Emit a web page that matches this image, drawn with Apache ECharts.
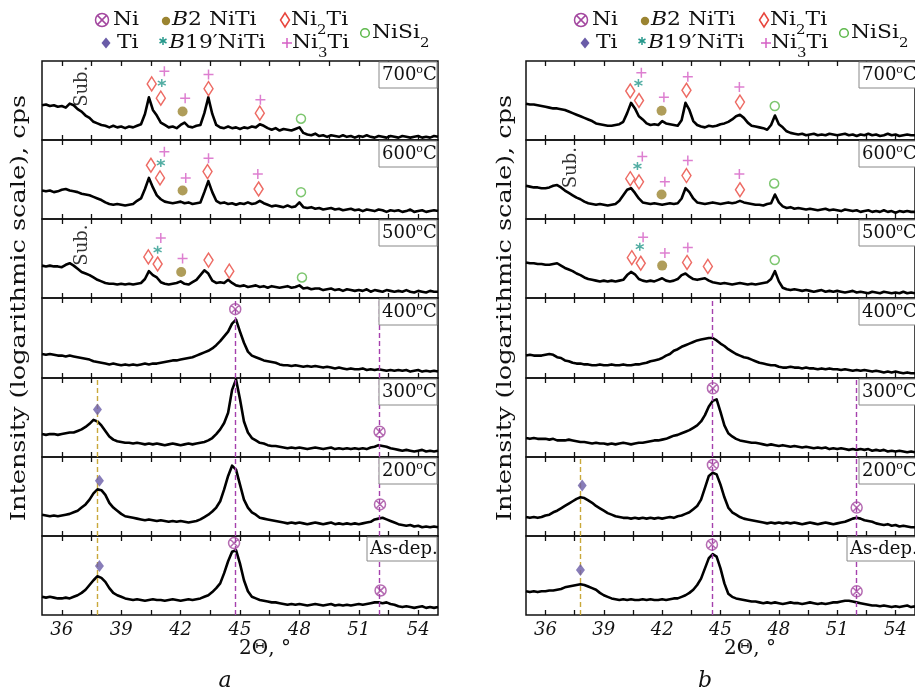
<!DOCTYPE html>
<html>
<head>
<meta charset="utf-8">
<script src="https://cdn.jsdelivr.net/npm/echarts@6/dist/echarts.min.js"></script>
<style>
html, body { margin: 0; padding: 0; background: #fff; }
#chart { width: 915px; height: 693px; }
</style>
</head>
<body>
<div id="chart"></div>
<script>
// 2Θ grid shared by all patterns (degrees)
const twoTheta = [
  35,35.2,35.4,35.6,35.8,36,36.2,36.4,36.6,36.8,
  37,37.2,37.4,37.6,37.8,38,38.2,38.4,38.6,38.8,
  39,39.2,39.4,39.6,39.8,40,40.2,40.4,40.6,40.8,
  41,41.2,41.4,41.6,41.8,42,42.2,42.4,42.6,42.8,
  43,43.2,43.4,43.6,43.8,44,44.2,44.4,44.6,44.8,
  45,45.2,45.4,45.6,45.8,46,46.2,46.4,46.6,46.8,
  47,47.2,47.4,47.6,47.8,48,48.2,48.4,48.6,48.8,
  49,49.2,49.4,49.6,49.8,50,50.2,50.4,50.6,50.8,
  51,51.2,51.4,51.6,51.8,52,52.2,52.4,52.6,52.8,
  53,53.2,53.4,53.6,53.8,54,54.2,54.4,54.6,54.8,
  55
];
const tickValues = [36, 37.5, 39, 40.5, 42, 43.5, 45, 46.5, 48, 49.5, 51, 52.5, 54];
const labelValues = [36, 39, 42, 45, 48, 51, 54];
const tempLabels = ['700', '600', '500', '400', '300', '200', 'As-dep.'];

// panel a — relative height in each strip (0..100), log-scale intensity
const a700 = [
  44,45,43,44,42,43,41,46,44,39, 36,31,28,23,21,19,18,16,18,16,
  17,15,17,16,18,20,33,54,38,31, 22,19,16,17,15,19,22,17,16,18,
  19,34,54,33,19,16,15,17,15,16, 14,16,15,17,16,20,18,15,13,15,
  12,14,13,12,14,16,9,7,6,8, 5,6,4,6,5,4,6,4,5,3,
  5,4,6,4,3,5,4,3,5,4, 3,5,4,3,4,5,3,4,3,5, 4
];
const a600 = [
  36,35,36,34,35,37,38,36,35,34, 32,31,30,28,26,24,21,19,18,19,
  18,17,18,19,23,26,38,52,40,30, 25,22,21,20,21,22,20,21,19,20,
  21,34,48,34,23,20,21,19,20,18, 20,19,21,19,20,23,20,18,16,17,
  16,15,17,15,16,21,15,14,15,13, 14,12,13,14,12,13,11,12,13,11,
  12,10,12,11,10,12,11,9,11,10, 11,9,10,12,9,10,11,9,10,11, 10
];
const a500 = [
  41,40,41,40,40,39,42,44,41,37, 33,31,29,26,23,21,19,18,18,17,
  18,17,18,17,18,19,24,34,29,26, 20,18,17,18,19,21,18,17,20,23,
  29,35,31,22,19,20,19,23,19,16, 15,16,14,15,16,14,15,13,15,14,
  13,14,15,13,14,16,12,13,11,12, 12,10,11,12,10,11,9,11,10,9,
  10,9,11,8,10,9,8,10,9,8, 9,8,10,8,7,9,8,7,9,8, 8
];
const a400 = [
  30,29,30,29,28,28,27,28,27,26, 25,24,23,21,20,19,18,17,18,17,
  16,17,16,17,16,17,18,17,18,18, 19,20,21,22,22,23,24,25,26,28,
  30,32,34,37,41,46,52,58,68,73, 58,44,33,28,26,24,22,21,20,19,
  17,16,16,15,16,15,14,15,14,15, 14,13,14,13,12,13,12,11,12,11,
  11,12,10,11,10,11,10,9,10,9, 10,9,10,8,9,10,8,9,8,9, 8
];
const a300 = [
  29,28,29,29,28,29,30,31,31,33, 35,38,42,47,45,40,33,26,22,20,
  19,18,18,17,18,17,16,17,16,17, 16,15,16,17,16,15,16,17,16,17,
  18,19,21,24,29,35,43,56,85,98, 73,45,31,24,21,18,17,15,14,14,
  13,12,11,12,11,12,11,10,11,12, 11,10,11,12,10,11,10,11,10,11,
  10,11,10,12,13,15,14,13,11,10, 9,8,9,8,7,8,9,7,8,7, 8
];
const a200 = [
  27,26,25,26,25,26,27,28,30,32, 36,40,46,54,59,58,52,42,36,32,
  28,25,24,23,22,21,20,21,20,19, 20,19,18,19,18,19,18,17,18,19,
  21,24,27,31,36,44,59,76,89,84, 65,46,36,30,27,23,22,21,20,19,
  18,17,16,17,16,17,16,15,16,17, 16,15,16,17,15,16,15,16,15,16,
  15,16,17,18,21,22,23,21,19,17, 15,14,13,14,12,13,11,12,11,12, 11
];
const aAsDep = [
  23,22,23,22,21,21,22,21,23,25, 28,32,38,44,49,47,42,34,28,25,
  23,21,20,19,20,19,18,19,20,19, 19,18,19,20,19,18,19,20,19,20,
  21,23,25,29,34,40,53,68,80,82, 65,44,30,23,21,19,18,17,16,16,
  15,14,13,14,13,14,13,12,13,14, 13,12,13,14,12,13,12,13,12,13,
  14,13,14,15,16,16,15,16,14,13, 11,10,11,10,9,10,11,9,10,9, 10
];

// panel b
const b700 = [
  46,45,45,44,43,42,41,40,40,39, 38,36,34,32,30,28,26,24,21,20,
  19,18,18,19,20,23,34,47,40,30, 26,21,19,20,19,24,21,20,19,18,
  25,47,38,24,19,17,16,18,17,18, 20,21,23,26,30,32,28,22,18,17,
  16,15,13,19,31,20,16,11,9,8, 7,8,6,7,8,6,7,6,8,7,
  6,7,8,6,7,5,7,6,8,6, 7,5,6,8,6,7,5,6,7,6, 6
];
const b600 = [
  42,41,40,40,39,39,40,42,43,40, 36,33,30,27,25,22,20,19,18,19,
  18,17,18,19,23,30,37,39,33,26, 21,20,19,20,19,18,19,20,19,20,
  26,39,34,26,21,20,19,20,21,20, 19,20,21,20,21,23,21,20,19,18,
  18,17,19,20,31,21,16,14,15,13, 14,13,12,13,12,11,12,13,11,12,
  11,10,12,11,10,11,9,10,11,9, 10,9,11,9,10,8,10,9,10,9, 9
];
const b500 = [
  45,44,44,43,43,42,42,43,44,41, 38,36,34,31,29,26,24,23,22,21,
  22,21,22,21,22,23,29,33,30,24, 22,21,22,21,23,25,22,21,22,24,
  29,31,27,24,23,24,25,22,20,19, 18,19,18,17,18,19,18,17,18,17,
  18,19,20,24,34,21,13,11,10,11, 10,9,10,9,8,9,10,8,9,8,
  9,8,7,8,9,7,8,7,6,8, 7,6,8,7,6,7,6,8,6,7, 6
];
const b400 = [
  28,29,28,28,28,29,30,29,26,25, 22,21,19,18,18,17,17,16,16,17,
  16,16,17,16,16,17,16,16,17,17, 18,19,21,22,23,25,28,30,34,36,
  39,41,43,45,47,48,49,50,50,47, 43,40,36,33,30,28,26,25,23,21,
  19,18,17,16,16,14,13,13,14,13, 13,12,13,12,12,11,12,11,12,11,
  11,10,11,10,9,10,9,10,9,8, 9,8,7,8,7,8,7,6,7,6, 6
];
const b300 = [
  24,23,24,23,23,23,22,23,21,21, 21,22,21,20,19,19,18,17,18,17,
  17,16,17,16,17,18,17,16,17,18, 18,19,20,21,21,22,23,25,27,28,
  30,32,34,37,40,45,53,64,71,73, 57,40,30,26,23,21,20,19,18,18,
  17,16,15,16,15,14,15,14,13,14, 13,12,13,12,11,12,11,12,10,11,
  10,11,10,9,10,9,10,9,10,8, 9,8,9,7,8,7,8,7,6,7, 6
];
const b200 = [
  24,23,24,23,24,26,27,30,32,35, 38,41,44,47,49,48,45,42,38,35,
  32,29,27,25,24,23,23,22,23,22, 23,22,23,22,23,22,23,24,23,25,
  26,28,30,34,38,46,61,76,80,78, 65,49,36,30,27,24,22,21,20,19,
  18,17,16,17,16,17,16,17,16,17, 16,15,16,17,16,15,16,17,16,15,
  16,17,18,20,22,23,22,20,19,18, 16,15,14,15,13,14,12,13,12,11, 11
];
const bAsDep = [
  30,29,30,29,30,30,31,31,32,33, 35,36,37,38,39,38,36,34,32,28,
  25,23,21,20,19,20,19,20,19,19, 20,19,20,19,19,20,19,20,21,21,
  23,25,28,32,38,46,59,72,77,74, 59,40,27,23,21,20,19,18,17,17,
  16,15,16,15,16,15,14,15,16,15, 15,14,15,16,15,14,15,14,15,16,
  16,17,18,18,17,16,15,14,13,12, 12,11,12,11,10,11,10,11,12,10, 11
];

// phase markers: [strip (0 = 700 °C ... 6 = as-dep.), 2Θ, height]
const niA = [[3,44.76,86],[4,52.05,32],[5,52.07,40],[6,44.7,91],[6,52.1,31]];
const tiA = [[4,37.8,60],[5,37.9,70],[6,37.9,62]];
const b2A = [[0,42.1,36],[1,42.1,36],[2,42.03,33]];
const ni2tiA = [[0,40.54,71],[0,41.0,53],[0,43.41,65],[0,46.0,34],[1,40.5,68],[1,40.96,52],[1,43.36,60],[1,45.94,38],
                [2,40.37,52],[2,40.84,43],[2,43.41,48],[2,44.46,34]];
const b19A = [[0,41.05,72],[1,41.0,71],[2,40.84,61]];
const ni3tiA = [[0,41.18,87],[0,42.23,53],[0,43.41,83],[0,46.03,51],[1,41.18,85],[1,42.26,52],[1,43.41,77],[1,45.9,57],
                [2,41.0,76],[2,42.1,50]];
const nisi2A = [[0,48.08,27],[1,48.08,34],[2,48.13,26]];

const niB = [[4,44.61,87],[5,44.61,90],[5,52.0,36],[6,44.56,89],[6,52.0,30]];
const tiB = [[5,37.89,64],[6,37.8,57]];
const b2B = [[0,41.97,37],[1,41.97,31],[2,42.0,41]];
const ni2tiB = [[0,40.36,62],[0,40.81,50],[0,43.25,63],[0,46.0,48],[1,40.36,51],[1,40.81,47],[1,43.25,55],[1,46.0,37],
                [2,40.44,51],[2,40.9,44],[2,43.28,45],[2,44.35,40]];
const b19B = [[0,40.78,72],[1,40.73,67],[2,40.85,65]];
const ni3tiB = [[0,40.93,85],[0,42.09,54],[0,43.32,80],[0,45.97,67],[1,40.98,79],[1,42.14,47],[1,43.32,74],[1,45.97,57],
                [2,41.02,77],[2,42.14,57],[2,43.32,64]];
const nisi2B = [[0,47.79,43],[1,47.76,45],[2,47.79,48]];

// reference lines: [2Θ, first strip, phase]
const dashA = [[37.79,4,'ti'],[44.76,3,'ni'],[52.05,3,'ni']];
const dashB = [[37.8,5,'ti'],[44.56,3,'ni'],[52.0,4,'ni']];
// "Sub." notes: [strip, 2Θ, height]
const subA = [[0,37.06,68],[2,37.06,67]];
const subB = [[1,37.33,65]];

const serif = '"DejaVu Serif", "Liberation Serif", serif';
const colors = {ni:'#a3479f', ti:'#6a5ca8', b2:'#9b8431', ni2ti:'#e8453c', b19:'#27998c', ni3ti:'#d45fc4', nisi2:'#5db84b'};
const dashColors = {ti:'#c9a83a', ni:'#a540ad'};
const markStyle = {
  ni:    {symbol:'path://M19,10A9,9,0,1,1,1,10A9,9,0,1,1,19,10ZM3.64,3.64L16.36,16.36M16.36,3.64L3.64,16.36', size:11, hollow:true},
  ti:    {symbol:'diamond', size:[9,12]},
  b2:    {symbol:'circle', size:10},
  ni2ti: {symbol:'diamond', size:[9,14], hollow:true},
  b19:   {symbol:'path://M10,0L10,20M1.34,5L18.66,15M1.34,15L18.66,5', size:8, hollow:true},
  ni3ti: {symbol:'path://M10,0L10,20M0,10L20,10', size:10, hollow:true},
  nisi2: {symbol:'circle', size:9, hollow:true}
};

const panels = [
  {left:42, width:396, curves:[a700,a600,a500,a400,a300,a200,aAsDep], dash:dashA, sub:subA,
   marks:{ni:niA, ti:tiA, b2:b2A, ni2ti:ni2tiA, b19:b19A, ni3ti:ni3tiA, nisi2:nisi2A}},
  {left:526, width:392, curves:[b700,b600,b500,b400,b300,b200,bAsDep], dash:dashB, sub:subB,
   marks:{ni:niB, ti:tiB, b2:b2B, ni2ti:ni2tiB, b19:b19B, ni3ti:ni3tiB, nisi2:nisi2B}}
];
const rowTop = 61, rowH = (615 - 61) / 7;

const grids = [], xAxes = [], yAxes = [], series = [], graphics = [];

const measureCtx = document.createElement('canvas').getContext('2d');
function textWidth(str, size, italic) {
  measureCtx.font = (italic ? 'italic ' : '') + size + 'px ' + serif;
  return measureCtx.measureText(str).width;
}

function makeX(g, pos, withLabels) {
  return {
    gridIndex: g, type: 'value', position: pos, min: 35, max: 55,
    axisLine: {show: false},
    axisTick: {show: true, inside: true, length: 5, customValues: tickValues, lineStyle: {color: '#111', width: 1.3}},
    axisLabel: {show: withLabels, customValues: labelValues, margin: 6, fontFamily: serif, fontStyle: 'italic',
                fontSize: 18, color: '#111'},
    splitLine: {show: false}
  };
}

function icon(kind, cx, cy) {
  const c = colors[kind];
  const s = {stroke: c, lineWidth: 1.5, fill: 'none'};
  const L = (x1, y1, x2, y2) => ({type: 'line', z: 100, shape: {x1: x1, y1: y1, x2: x2, y2: y2}, style: s});
  switch (kind) {
    case 'ni': return [{type: 'circle', z: 100, shape: {cx: cx, cy: cy, r: 6.5}, style: s},
                       L(cx - 4.6, cy - 4.6, cx + 4.6, cy + 4.6), L(cx + 4.6, cy - 4.6, cx - 4.6, cy + 4.6)];
    case 'ti': return [{type: 'polygon', z: 100, shape: {points: [[cx, cy - 5.5], [cx + 4.5, cy], [cx, cy + 5.5], [cx - 4.5, cy]]},
                        style: {fill: c}}];
    case 'b2': return [{type: 'circle', z: 100, shape: {cx: cx, cy: cy, r: 4.2}, style: {fill: c}}];
    case 'ni2ti': return [{type: 'polygon', z: 100, shape: {points: [[cx, cy - 7], [cx + 4.5, cy], [cx, cy + 7], [cx - 4.5, cy]]},
                           style: s}];
    case 'b19': return [L(cx, cy - 4, cx, cy + 4), L(cx - 3.5, cy - 2, cx + 3.5, cy + 2), L(cx - 3.5, cy + 2, cx + 3.5, cy - 2)];
    case 'ni3ti': return [L(cx, cy - 5, cx, cy + 5), L(cx - 5, cy, cx + 5, cy)];
    case 'nisi2': return [{type: 'circle', z: 100, shape: {cx: cx, cy: cy, r: 4.3}, style: s}];
  }
  return [];
}

// legend text made of pieces: n = normal, i = italic, s = subscript
function legendText(parts, x, y, sx) {
  let cx = x;
  parts.forEach(pt => {
    const kind = pt[1];
    const size = kind === 's' ? 13 : 19;
    const italic = kind === 'i';
    graphics.push({type: 'text', z: 100, x: cx, y: kind === 's' ? y + 11 : y, scaleX: sx,
                   style: {text: pt[0], fontFamily: serif, fontSize: size, fontStyle: italic ? 'italic' : 'normal',
                           fill: '#111', align: 'left', verticalAlign: 'middle', textAlign: 'left', textVerticalAlign: 'middle'}});
    cx += textWidth(pt[0], size, italic) * sx;
  });
}

panels.forEach((p, pi) => {
  p.curves.forEach((vals, r) => {
    const g = grids.length;
    const top = Math.round(rowTop + r * rowH);
    const bottom = Math.round(rowTop + (r + 1) * rowH);
    grids.push({left: p.left, top: top, width: p.width, height: bottom - top, show: true,
                borderColor: '#111', borderWidth: 1.5, backgroundColor: 'transparent'});
    xAxes.push(makeX(g, 'bottom', r === 6));
    xAxes.push(makeX(g, 'top', false));
    yAxes.push({gridIndex: g, type: 'value', min: 0, max: 100, show: false});

    const lines = p.dash.filter(d => r >= d[1]).map(d => ({
      xAxis: d[0], lineStyle: {color: dashColors[d[2]], type: [5, 3], width: 1.4}
    }));
    series.push({
      type: 'line', xAxisIndex: 2 * g, yAxisIndex: g, silent: true,
      data: twoTheta.map((t, i) => [t, vals[i]]),
      symbol: 'none', lineStyle: {color: '#000', width: 2.6, join: 'round'},
      markLine: lines.length ? {symbol: ['none', 'none'], silent: true, label: {show: false}, data: lines} : undefined
    });

    Object.keys(p.marks).forEach(kind => {
      const pts = p.marks[kind].filter(t => t[0] === r).map(t => [t[1], t[2]]);
      if (!pts.length) return;
      const st = markStyle[kind];
      series.push({
        type: 'scatter', xAxisIndex: 2 * g, yAxisIndex: g, silent: true, z: 5,
        data: pts, symbol: st.symbol, symbolSize: st.size,
        itemStyle: st.hollow ? {color: 'rgba(0,0,0,0)', borderColor: colors[kind], borderWidth: 1.5}
                             : {color: colors[kind]}
      });
    });

    const subs = p.sub.filter(s => s[0] === r).map(s => [s[1], s[2]]);
    if (subs.length) {
      series.push({
        type: 'scatter', xAxisIndex: 2 * g, yAxisIndex: g, silent: true, data: subs, symbolSize: 0,
        label: {show: true, position: 'inside', formatter: 'Sub.', rotate: 90, fontFamily: serif, fontSize: 18, color: '#000'}
      });
    }

    // temperature box
    const right = p.left + p.width;
    const w = r === 6 ? 71 : 59;
    const h = r === 6 ? 24 : 26;
    graphics.push({type: 'rect', z: 100, shape: {x: right - w, y: top + 1, width: w - 1, height: h},
                   style: {fill: '#fff', stroke: '#888', lineWidth: 1}});
    const txt = r === 6 ? '{n|' + tempLabels[r] + '}' : '{n|' + tempLabels[r] + '}{o|o}{n|C}';
    graphics.push({type: 'text', z: 101, x: right - w + 3, y: top + 1 + h / 2,
                   style: {text: txt, fill: '#111', align: 'left', verticalAlign: 'middle',
                           textAlign: 'left', textVerticalAlign: 'middle',
                           rich: {n: {fontFamily: serif, fontSize: 18, lineHeight: 20},
                                  o: {fontFamily: serif, fontSize: 11, lineHeight: 12, verticalAlign: 'top'}}}});
  });

  const dx = pi === 0 ? 0 : 479;
  // axis titles
  graphics.push({type: 'text', z: 100, x: (pi === 0 ? 20 : 506), y: 308, rotation: Math.PI / 2, scaleX: 1.28,
                 style: {text: 'Intensity (logarithmic scale), cps', fontFamily: serif, fontSize: 20, fill: '#111',
                         align: 'center', verticalAlign: 'middle', textAlign: 'center', textVerticalAlign: 'middle'}});
  graphics.push({type: 'text', z: 100, x: (pi === 0 ? 265 : 750), y: 649,
                 style: {text: '2Θ, °', fontFamily: serif, fontSize: 20, fill: '#111',
                         align: 'center', verticalAlign: 'middle', textAlign: 'center', textVerticalAlign: 'middle'}});
  graphics.push({type: 'text', z: 100, x: (pi === 0 ? 225 : 705), y: 681,
                 style: {text: pi === 0 ? 'a' : 'b', fontFamily: serif, fontStyle: 'italic', fontSize: 22, fill: '#111',
                         align: 'center', verticalAlign: 'middle', textAlign: 'center', textVerticalAlign: 'middle'}});

  // legend
  const legendItems = [
    ['ni', 102, 20, [['Ni', 'n']], 113, 20],
    ['b2', 166, 21, [['B', 'i'], ['2 NiTi', 'n']], 172, 20],
    ['ni2ti', 285, 20, [['Ni', 'n'], ['2', 's'], ['Ti', 'n']], 291, 20],
    ['ti', 106, 43, [['Ti', 'n']], 117, 43],
    ['b19', 163, 41, [['B', 'i'], ['19′NiTi', 'n']], 169, 43],
    ['ni3ti', 287, 43, [['Ni', 'n'], ['3', 's'], ['Ti', 'n']], 292, 43],
    ['nisi2', 365, 33, [['NiSi', 'n'], ['2', 's']], 372, 33]
  ];
  legendItems.forEach(it => {
    icon(it[0], it[1] + dx, it[2]).forEach(e => graphics.push(e));
    legendText(it[3], it[4] + dx, it[5], 1.15);
  });
});

const chart = echarts.init(document.getElementById('chart'));
chart.setOption({
  animation: false,
  backgroundColor: '#fff',
  grid: grids,
  xAxis: xAxes,
  yAxis: yAxes,
  series: series,
  graphic: {elements: graphics}
});
</script>
</body>
</html>
